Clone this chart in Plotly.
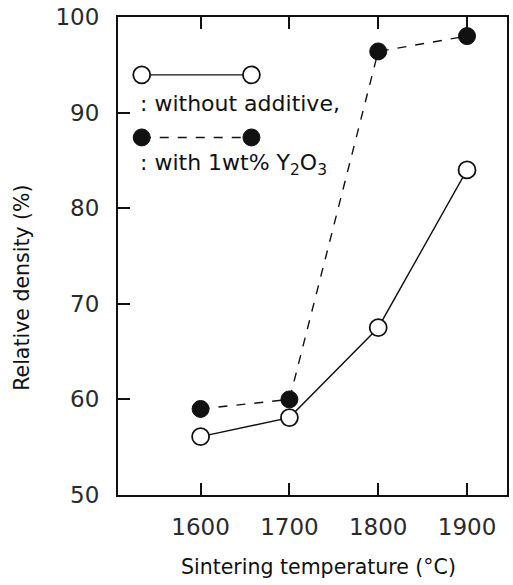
import plotly.graph_objects as go

temps = [1600, 1700, 1800, 1900]
without_additive = [56.1, 58.1, 67.5, 84.0]
with_y2o3 = [59.0, 60.0, 96.4, 98.0]
x_ticks = [1600, 1700, 1800, 1900]
y_ticks = [50, 60, 70, 80, 90, 100]

FONT = "DejaVu Sans"
INK = "#111111"

fig = go.Figure()
fig.add_trace(go.Scatter(
    x=temps, y=with_y2o3, mode="lines+markers",
    line=dict(color=INK, width=1.4, dash="dash"),
    marker=dict(symbol="circle", size=17, color=INK, line=dict(color=INK, width=1)),
    showlegend=False, cliponaxis=False))
fig.add_trace(go.Scatter(
    x=temps, y=without_additive, mode="lines+markers",
    line=dict(color=INK, width=1.4),
    marker=dict(symbol="circle", size=17, color="white", line=dict(color=INK, width=1.8)),
    showlegend=False, cliponaxis=False))

# legend drawn inside the plot (paper coordinates)
shapes = []
def sample(xa, xb, y, filled, dash):
    shapes.append(dict(type="line", xref="paper", yref="paper", x0=xa, x1=xb, y0=y, y1=y,
                       line=dict(color=INK, width=1.4, dash=dash), layer="below"))
    for xc in (xa, xb):
        shapes.append(dict(type="circle", xref="paper", yref="paper",
                           xsizemode="pixel", ysizemode="pixel", xanchor=xc, yanchor=y,
                           x0=-8.5, x1=8.5, y0=-8.5, y1=8.5,
                           fillcolor=INK if filled else "white",
                           line=dict(color=INK, width=1.8 if not filled else 1)))
sample(0.061, 0.343, 0.879, False, "solid")
sample(0.061, 0.343, 0.748, True, "dash")

annotations = [
    dict(text=": without additive,", xref="paper", yref="paper", x=0.052, y=0.818,
         xanchor="left", yanchor="middle", showarrow=False,
         font=dict(family=FONT, size=22, color=INK)),
    dict(text=": with 1wt% Y<sub>2</sub>O<sub>3</sub>", xref="paper", yref="paper", x=0.052, y=0.692,
         xanchor="left", yanchor="middle", showarrow=False,
         font=dict(family=FONT, size=22, color=INK)),
    # axis titles
    dict(text="Sintering temperature (°C)", xref="paper", yref="paper",
         x=(320 - 118) / 391, y=-(567 - 495) / 481, xanchor="center", yanchor="middle",
         showarrow=False, font=dict(family=FONT, size=20.5, color=INK)),
    dict(text="Relative density (%)", xref="paper", yref="paper", textangle=-90,
         x=-(118 - 22) / 391, y=(495 - 286) / 481, xanchor="center", yanchor="middle",
         showarrow=False, font=dict(family=FONT, size=20.5, color=INK)),
]

fig.update_layout(
    width=513, height=585,
    margin=dict(l=118, r=4, t=14, b=90),
    paper_bgcolor="white", plot_bgcolor="white",
    shapes=shapes, annotations=annotations,
    xaxis=dict(range=[1507, 1945], tickvals=x_ticks, ticks="inside", ticklen=12, tickwidth=1.5,
               tickcolor=INK, showline=True, linecolor=INK, linewidth=2, mirror="ticks",
               showgrid=False, zeroline=False, ticklabelstandoff=10,
               tickfont=dict(family=FONT, size=23, color="#2a2a2a")),
    yaxis=dict(range=[50, 100], tickvals=y_ticks, ticks="inside", ticklen=12, tickwidth=1.5,
               tickcolor=INK, showline=True, linecolor=INK, linewidth=2, mirror=True,
               showgrid=False, zeroline=False, ticklabelstandoff=12,
               tickfont=dict(family=FONT, size=23, color="#2a2a2a")),
)

fig.write_html("out.html")
